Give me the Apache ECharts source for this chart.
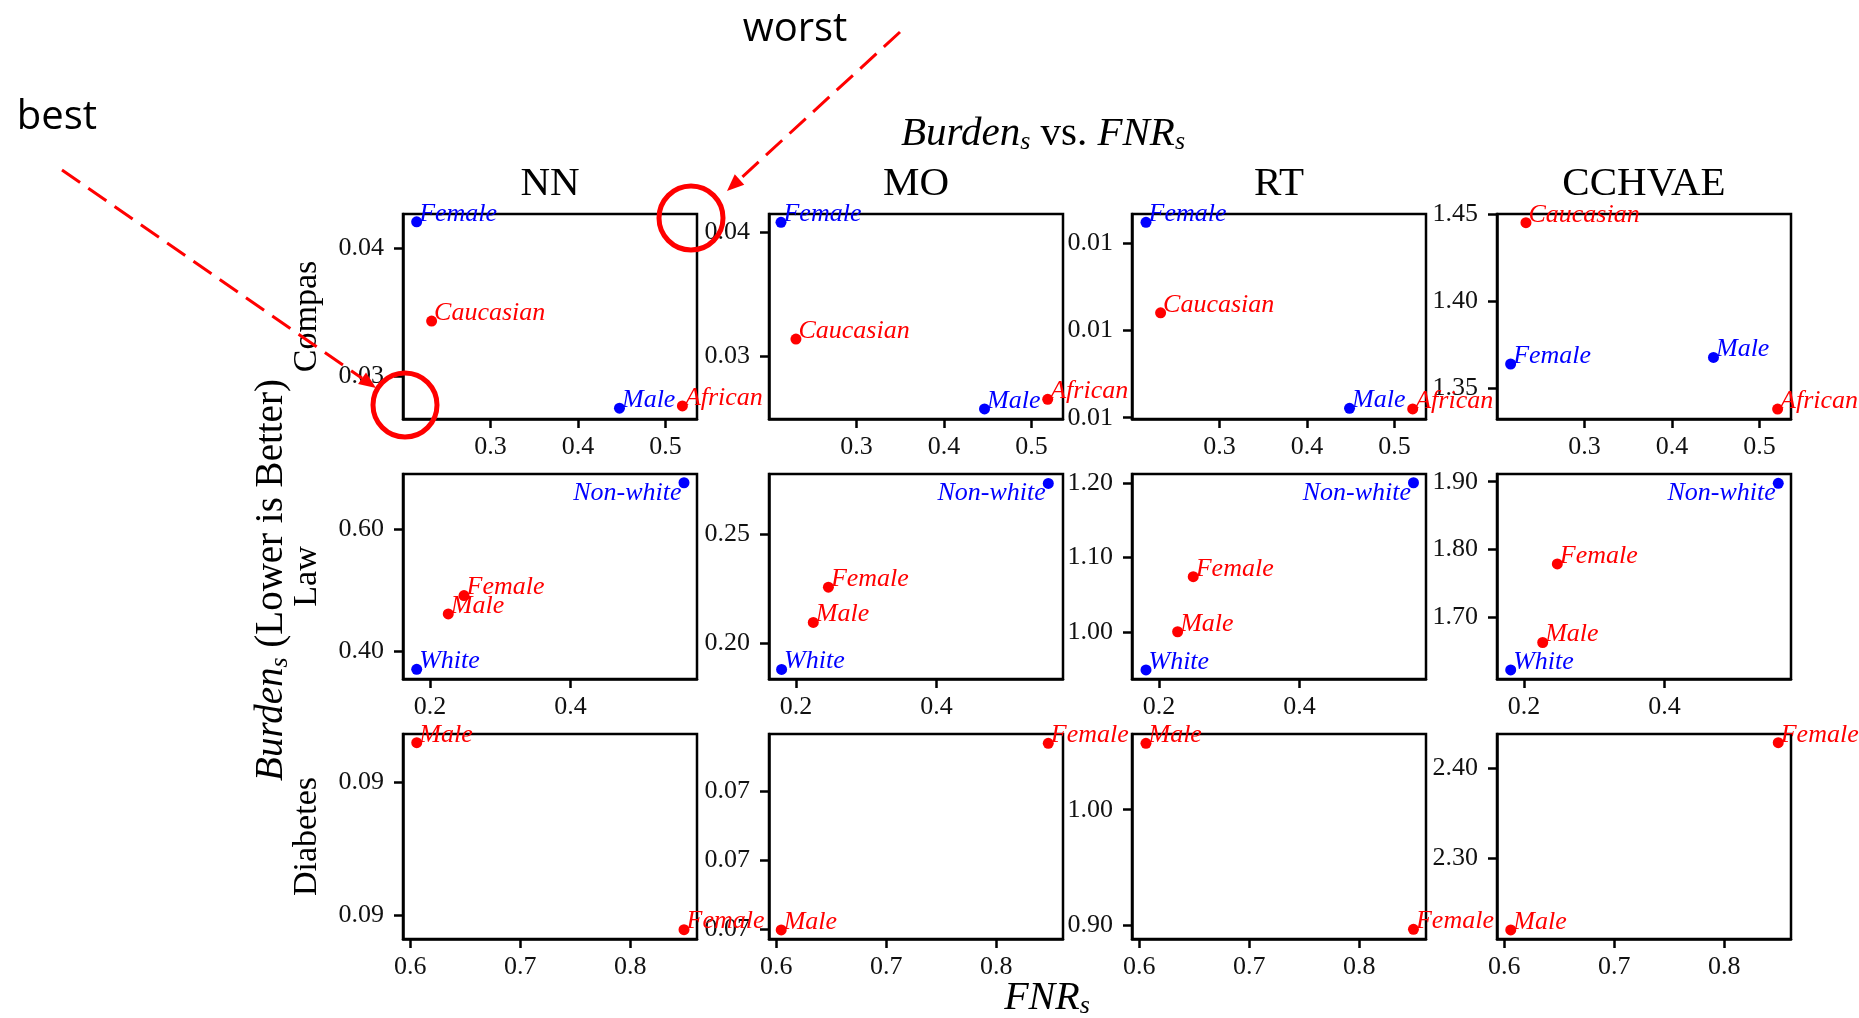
<!DOCTYPE html>
<html>
<head>
<meta charset="utf-8">
<title>Burden vs FNR</title>
<script src="https://cdn.jsdelivr.net/npm/echarts@6.0.0/dist/echarts.min.js"></script>
<style>
html, body { margin: 0; padding: 0; background: #fff; }
#chart { width: 1859px; height: 1018px; }
</style>
</head>
<body>
<div id="chart"></div>
<script>
var models = ['NN', 'MO', 'RT', 'CCHVAE'];
var datasets = ['Compas', 'Law', 'Diabetes'];

// groups and their colours, per dataset
var compasGroups = ['Female', 'Caucasian', 'Male', 'African'];
var compasColors = ['blue', 'red', 'blue', 'red'];
var lawGroups = ['Non-white', 'Female', 'Male', 'White'];
var lawColors = ['blue', 'red', 'red', 'blue'];
var diabetesGroups = ['Male', 'Female'];
var diabetesColors = ['red', 'red'];

// FNR_s (x), one row per model: NN, MO, RT, CCHVAE
var compasFnr = [
    [0.2156, 0.2327, 0.4474, 0.5193],
    [0.2137, 0.2308, 0.4463, 0.5185],
    [0.2160, 0.2327, 0.4486, 0.5208],
    [0.2156, 0.2331, 0.4474, 0.5207]
];
var lawFnr = [
    [0.5613, 0.2484, 0.2260, 0.1811],
    [0.5589, 0.2461, 0.2246, 0.1795],
    [0.5620, 0.2487, 0.2265, 0.1815],
    [0.5617, 0.2474, 0.2266, 0.1811]
];
var diabetesFnr = [
    [0.6060, 0.8490],
    [0.6046, 0.8474],
    [0.6062, 0.8494],
    [0.6060, 0.8492]
];

// Burden_s (y)
var compasBurden = [
    [0.04209, 0.03430, 0.02746, 0.02764],
    [0.04081, 0.03137, 0.02572, 0.02650],
    [0.012242, 0.011204, 0.010108, 0.010100],
    [1.3640, 1.4452, 1.3678, 1.3381]
];
var lawBurden = [
    [0.6765, 0.4910, 0.4607, 0.3697],
    [0.2733, 0.2258, 0.2097, 0.1882],
    [1.2000, 1.0745, 1.0010, 0.9500],
    [1.8976, 1.7788, 1.6630, 1.6225]
];
var diabetesBurden = [
    [0.09259, 0.08979],
    [0.06999, 0.072689],
    [1.0574, 0.8965],
    [2.2202, 2.4287]
];

// axis extents and ticks
var compasFnrRange = [0.2, 0.536];
var lawFnrRange = [0.1616, 0.5798];
var diabetesFnrRange = [0.5935, 0.8608];
var compasFnrTicks = [0.3, 0.4, 0.5];
var lawFnrTicks = [0.2, 0.4];
var diabetesFnrTicks = [0.6, 0.7, 0.8];

var compasBurdenRange = [[0.02661, 0.0427], [0.02491, 0.04148], [0.009985, 0.012338], [1.3324, 1.4502]];
var lawBurdenRange = [[0.3537, 0.6909], [0.1838, 0.2776], [0.9379, 1.2117], [1.6092, 1.9114]];
var diabetesBurdenRange = [[0.08965, 0.09272], [0.069859, 0.072824], [0.8881, 1.0655], [2.2101, 2.4384]];
var compasBurdenTicks = [[0.03, 0.04], [0.03, 0.04], [0.010, 0.011, 0.012], [1.35, 1.40, 1.45]];
var lawBurdenTicks = [[0.40, 0.60], [0.20, 0.25], [1.00, 1.10, 1.20], [1.70, 1.80, 1.90]];
var diabetesBurdenTicks = [[0.090, 0.092], [0.070, 0.071, 0.072], [0.90, 1.00], [2.30, 2.40]];

var rowGroups = [compasGroups, lawGroups, diabetesGroups];
var rowColors = [compasColors, lawColors, diabetesColors];
var rowFnr = [compasFnr, lawFnr, diabetesFnr];
var rowBurden = [compasBurden, lawBurden, diabetesBurden];
var rowFnrRange = [compasFnrRange, lawFnrRange, diabetesFnrRange];
var rowFnrTicks = [compasFnrTicks, lawFnrTicks, diabetesFnrTicks];
var rowBurdenRange = [compasBurdenRange, lawBurdenRange, diabetesBurdenRange];
var rowBurdenTicks = [compasBurdenTicks, lawBurdenTicks, diabetesBurdenTicks];

var serif = "'Liberation Serif', 'DejaVu Serif', serif";
var colorMap = { blue: '#0000ff', red: '#ff0000' };

var gridLeft = [403, 769, 1132, 1497];
var gridTop = [214, 474, 734];
var gridW = 294, gridH = 205;

var grids = [], xAxes = [], yAxes = [], series = [];

for (var r = 0; r < 3; r++) {
    for (var c = 0; c < 4; c++) {
        var idx = r * 4 + c;
        grids.push({
            left: gridLeft[c], top: gridTop[r], width: gridW, height: gridH,
            show: true, borderColor: '#000', borderWidth: 2.5,
            containLabel: false, outerBoundsMode: 'none'
        });
        xAxes.push({
            gridIndex: idx, type: 'value',
            min: rowFnrRange[r][0], max: rowFnrRange[r][1],
            axisLine: { show: true, onZero: false, lineStyle: { color: '#000', width: 2.5 } },
            axisTick: { show: true, length: 9, lineStyle: { color: '#000', width: 2.5 }, customValues: rowFnrTicks[r] },
            axisLabel: {
                customValues: rowFnrTicks[r], margin: 15,
                fontFamily: serif, fontSize: 26, color: '#111',
                formatter: function (v) { return v.toFixed(1); }
            },
            splitLine: { show: false }
        });
        yAxes.push({
            gridIndex: idx, type: 'value',
            min: rowBurdenRange[r][c][0], max: rowBurdenRange[r][c][1],
            axisLine: { show: true, onZero: false, lineStyle: { color: '#000', width: 2.5 } },
            axisTick: { show: true, length: 9, lineStyle: { color: '#000', width: 2.5 }, customValues: rowBurdenTicks[r][c] },
            axisLabel: {
                customValues: rowBurdenTicks[r][c], margin: 19,
                fontFamily: serif, fontSize: 26, color: '#111',
                formatter: function (v) { return v.toFixed(2); }
            },
            splitLine: { show: false }
        });

        var items = [];
        for (var i = 0; i < rowGroups[r].length; i++) {
            var col = colorMap[rowColors[r][i]];
            var onLeft = rowGroups[r][i] === 'Non-white';
            items.push({
                name: rowGroups[r][i],
                value: [rowFnr[r][c][i], rowBurden[r][c][i]],
                itemStyle: { color: col, opacity: 1 },
                label: {
                    color: col,
                    position: onLeft ? 'left' : 'right',
                    distance: 0,
                    offset: onLeft ? [3, 10] : [-3, -8]
                }
            });
        }
        series.push({
            type: 'scatter',
            xAxisIndex: idx, yAxisIndex: idx,
            symbolSize: 11,
            data: items,
            label: {
                show: true,
                formatter: '{b}',
                fontFamily: serif, fontStyle: 'italic', fontSize: 26
            },
            emphasis: { disabled: true },
            animation: false
        });
    }
}

// annotations: titles, row names, axis names, best/worst markers
var graphics = [];
graphics.push({
    type: 'text', x: 1043, y: 134,
    style: {
        text: '{i|Burden}{s|s}{n| vs. }{i|FNR}{s|s}',
        align: 'center', verticalAlign: 'middle',
        rich: {
            i: { fontFamily: serif, fontStyle: 'italic', fontSize: 41, lineHeight: 42 },
            n: { fontFamily: serif, fontSize: 41, lineHeight: 42 },
            s: { fontFamily: serif, fontStyle: 'italic', fontSize: 26, lineHeight: 18, verticalAlign: 'bottom' }
        }
    }
});
for (var c2 = 0; c2 < 4; c2++) {
    graphics.push({
        type: 'text', x: gridLeft[c2] + gridW / 2, y: 184,
        style: { text: models[c2], fontFamily: serif, fontSize: 41, align: 'center', verticalAlign: 'middle', fill: '#000' }
    });
}
for (var r2 = 0; r2 < 3; r2++) {
    graphics.push({
        type: 'text', x: 307, y: gridTop[r2] + gridH / 2, rotation: Math.PI / 2,
        style: { text: datasets[r2], fontFamily: serif, fontSize: 34, align: 'center', verticalAlign: 'middle', fill: '#000' }
    });
}
graphics.push({
    type: 'text', x: 272, y: 580, rotation: Math.PI / 2,
    style: {
        text: '{i|Burden}{s|s}{n| (Lower is Better)}',
        align: 'center', verticalAlign: 'middle',
        rich: {
            i: { fontFamily: serif, fontStyle: 'italic', fontSize: 39, lineHeight: 42 },
            n: { fontFamily: serif, fontSize: 39, lineHeight: 42 },
            s: { fontFamily: serif, fontStyle: 'italic', fontSize: 26, lineHeight: 18, verticalAlign: 'bottom' }
        }
    }
});
graphics.push({
    type: 'text', x: 1047, y: 998,
    style: {
        text: '{i|FNR}{s|s}',
        align: 'center', verticalAlign: 'middle',
        rich: {
            i: { fontFamily: serif, fontStyle: 'italic', fontSize: 40, lineHeight: 42 },
            s: { fontFamily: serif, fontStyle: 'italic', fontSize: 26, lineHeight: 18, verticalAlign: 'bottom' }
        }
    }
});

var sans = "'Open Sans', 'Noto Sans', sans-serif";
graphics.push({ type: 'text', x: 795, y: 30, style: { text: 'worst', fontFamily: sans, fontSize: 40, align: 'center', verticalAlign: 'middle', fill: '#000' } });
graphics.push({ type: 'text', x: 57, y: 118, style: { text: 'best', fontFamily: sans, fontSize: 40, align: 'center', verticalAlign: 'middle', fill: '#000' } });

function arrow(x1, y1, x2, y2) {
    var dx = x2 - x1, dy = y2 - y1, len = Math.sqrt(dx * dx + dy * dy);
    var ux = dx / len, uy = dy / len, hl = 17, hw = 7;
    var bx = x2 - ux * hl, by = y2 - uy * hl;
    graphics.push({
        type: 'line', z: 10,
        shape: { x1: x1, y1: y1, x2: bx, y2: by },
        style: { stroke: '#ff0000', lineWidth: 3, lineDash: [22, 10] }
    });
    graphics.push({
        type: 'polygon', z: 10,
        shape: { points: [[x2, y2], [bx - uy * hw, by + ux * hw], [bx + uy * hw, by - ux * hw]] },
        style: { fill: '#ff0000' }
    });
}
arrow(900, 32, 727, 191);
arrow(62, 170, 376, 388);
graphics.push({ type: 'circle', z: 10, shape: { cx: 691, cy: 218, r: 32 }, style: { fill: 'none', stroke: '#ff0000', lineWidth: 5 } });
graphics.push({ type: 'circle', z: 10, shape: { cx: 405, cy: 405, r: 32 }, style: { fill: 'none', stroke: '#ff0000', lineWidth: 5 } });

var myChart = echarts.init(document.getElementById('chart'));
var option = {
    backgroundColor: '#fff',
    animation: false,
    grid: grids,
    xAxis: xAxes,
    yAxis: yAxes,
    series: series,
    graphic: graphics
};
myChart.setOption(option);
</script>
</body>
</html>
